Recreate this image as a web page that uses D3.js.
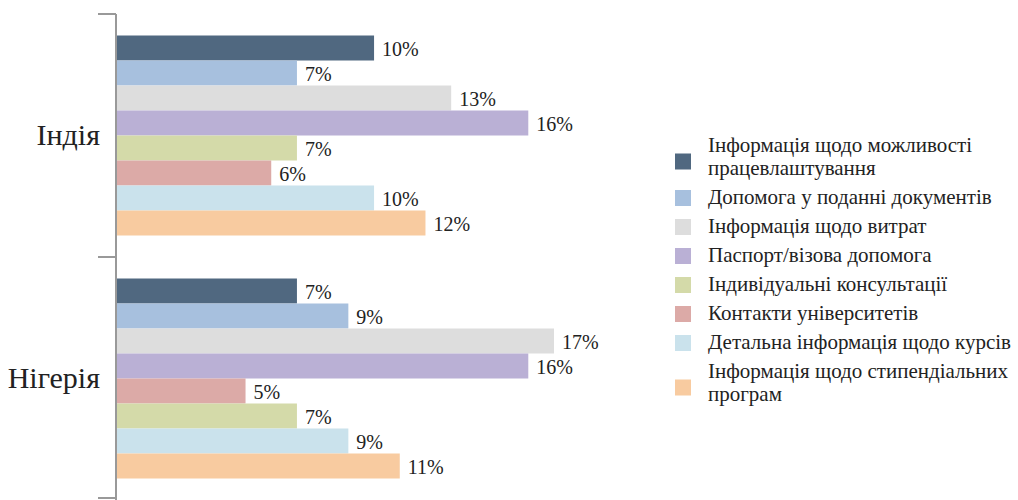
<!DOCTYPE html>
<html>
<head>
<meta charset="utf-8">
<script src="https://cdn.jsdelivr.net/npm/d3@7"></script>
</head>
<body style="margin:0">
<svg id="chart" width="1018" height="500" style="display:block"></svg>
<script>
var FONT = "'Liberation Serif', 'Times New Roman', serif";

// categories (countries) and series
var countries = ["Індія", "Нігерія"];
var seriesNames = [
  "Інформація щодо можливості працевлаштування",
  "Допомога у поданні документів",
  "Інформація щодо витрат",
  "Паспорт/візова допомога",
  "Індивідуальні консультації",
  "Контакти університетів",
  "Детальна інформація щодо курсів",
  "Інформація щодо стипендіальних програм"
];
// legend lines (wrapped as in the picture)
var legendLines = [
  ["Інформація щодо можливості", "працевлаштування"],
  ["Допомога у поданні документів"],
  ["Інформація щодо витрат"],
  ["Паспорт/візова допомога"],
  ["Індивідуальні консультації"],
  ["Контакти університетів"],
  ["Детальна інформація щодо курсів"],
  ["Інформація щодо стипендіальних", "програм"]
];
var seriesColors = ["#506880", "#a7c0de", "#dddddd", "#bab0d5", "#d4daa9", "#dcaaa7", "#cae2ec", "#f8cba0"];

// values (%) in series order
var indiaValues   = [10, 7, 13, 16, 7, 6, 10, 12];
var nigeriaValues = [7, 9, 17, 16, 7, 5, 9, 11];
// order the bars are stacked top to bottom inside each group
var indiaOrder   = [0, 1, 2, 3, 4, 5, 6, 7];
var nigeriaOrder = [0, 1, 2, 3, 5, 4, 6, 7];

var groups = [
  {name: countries[0], values: indiaValues, order: indiaOrder},
  {name: countries[1], values: nigeriaValues, order: nigeriaOrder}
];

var svg = d3.select("#chart");

var axisX = 116;
var y = d3.scaleBand().domain(countries).range([14, 500]);
var slot = d3.scaleBand().domain(d3.range(8)).range([0, 200]);
var slotOffset = (y.bandwidth() - 200) / 2;
var x = d3.scaleLinear().domain([0, 17]).range([axisX + 1, axisX + 1 + 437]);

// bars
groups.forEach(function(g) {
  var gg = svg.append("g");
  g.order.forEach(function(si, pos) {
    var top = y(g.name) + slotOffset + slot(pos);
    var v = g.values[si];
    gg.append("rect")
      .attr("x", x(0))
      .attr("y", top)
      .attr("width", x(v) - x(0))
      .attr("height", slot.bandwidth())
      .attr("fill", seriesColors[si]);
    gg.append("text")
      .attr("x", x(v) + 8)
      .attr("y", top + slot.bandwidth() / 2)
      .attr("dy", "0.38em")
      .style("font-family", FONT)
      .attr("font-size", 20)
      .attr("fill", "#222")
      .text(v + "%");
  });
  svg.append("text")
    .attr("x", 100)
    .attr("y", y(g.name) + y.bandwidth() / 2)
    .attr("dy", "0.33em")
    .attr("text-anchor", "end")
    .style("font-family", FONT)
    .attr("font-size", 30)
    .attr("fill", "#222")
    .text(g.name);
});

// category axis with ticks at band edges
svg.append("line")
  .attr("x1", axisX).attr("x2", axisX)
  .attr("y1", 14).attr("y2", 500)
  .attr("stroke", "#999").attr("stroke-width", 2);
var edges = countries.map(function(c) { return y(c); }).concat([y.range()[1] - 2]);
svg.selectAll(".tick").data(edges).enter().append("line")
  .attr("x1", 98).attr("x2", axisX)
  .attr("y1", function(d) { return d; })
  .attr("y2", function(d) { return d; })
  .attr("stroke", "#999").attr("stroke-width", 2);

// legend
var legend = svg.append("g");
var lineY = 145;
legendLines.forEach(function(lines, i) {
  var first = lineY;
  lines.forEach(function(t, k) {
    legend.append("text")
      .attr("x", 708)
      .attr("y", lineY)
      .attr("dy", "0.35em")
      .style("font-family", FONT)
      .attr("font-size", 21)
      .attr("fill", "#222")
      .text(t);
    if (k < lines.length - 1) lineY += 23;
  });
  var mid = (first + lineY) / 2 + (lines.length > 1 ? 5 : 1);
  legend.append("rect")
    .attr("x", 675)
    .attr("y", mid - 8)
    .attr("width", 16)
    .attr("height", 16)
    .attr("fill", seriesColors[i]);
  lineY += 29;
});
</script>
</body>
</html>
